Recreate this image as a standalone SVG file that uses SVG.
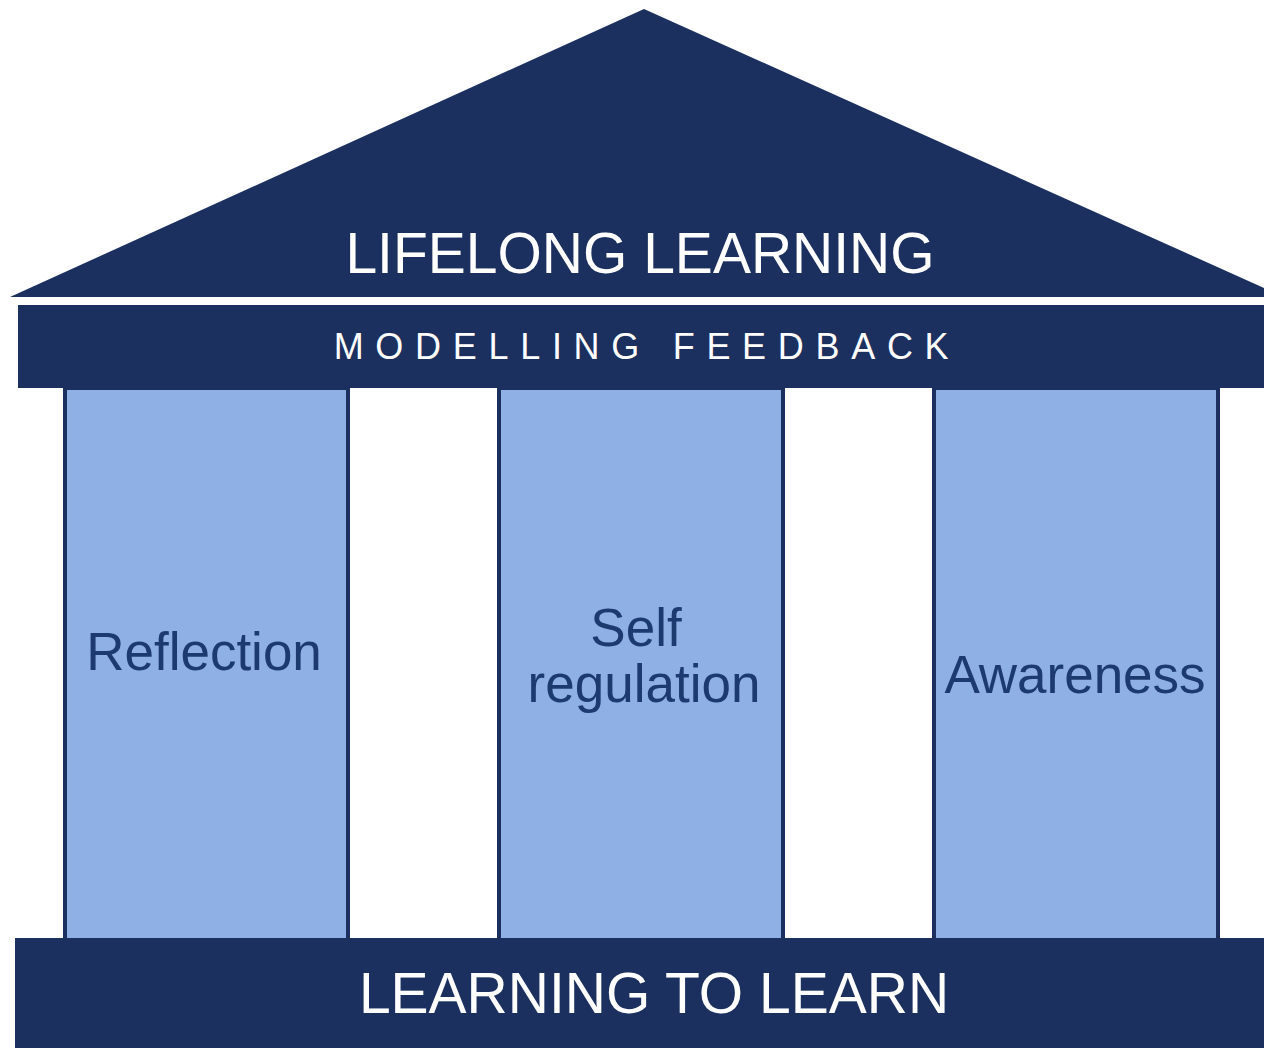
<svg xmlns="http://www.w3.org/2000/svg" width="1264" height="1048" viewBox="0 0 1264 1048">
<style>
.dark{fill:#1b305e}
.pillar{fill:#8fb0e5;stroke:#1b305e;stroke-width:4}
.cap{font-family:"Liberation Sans",Arial,sans-serif;fill:#ffffff;text-anchor:middle}
.lbl{font-family:"Liberation Sans",Arial,sans-serif;fill:#1c3a6e;text-anchor:middle;font-size:53px}
</style>
<rect width="1264" height="1048" fill="#ffffff"/>
<g id="roof">
<polygon class="dark" points="10,297 644,9 1264,288 1264,297"/>
<text class="cap" x="640" y="273" font-size="57">LIFELONG LEARNING</text>
</g>
<g id="beam">
<rect class="dark" x="18" y="305" width="1246" height="83"/>
<text class="cap" x="647" y="359" font-size="36" letter-spacing="11.7">MODELLING FEEDBACK</text>
</g>
<g id="pillar-reflection">
<rect class="pillar" x="65" y="388" width="283" height="552"/>
<text class="lbl" x="204" y="670">Reflection</text>
</g>
<g id="pillar-self-regulation">
<rect class="pillar" x="499" y="388" width="284" height="552"/>
<text class="lbl" x="636" y="646">Self</text>
<text class="lbl" x="644" y="702">regulation</text>
</g>
<g id="pillar-awareness">
<rect class="pillar" x="934" y="388" width="284" height="552"/>
<text class="lbl" x="1075" y="693">Awareness</text>
</g>
<g id="base">
<rect class="dark" x="15" y="938" width="1249" height="110"/>
<text class="cap" x="654" y="1013" font-size="57">LEARNING TO LEARN</text>
</g>
<g id="connectors"/>
</svg>
